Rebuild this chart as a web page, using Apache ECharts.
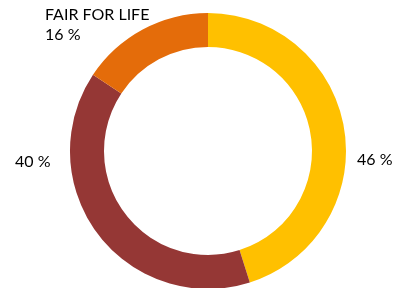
<!DOCTYPE html>
<html>
<head>
<meta charset="utf-8">
<script src="https://cdn.jsdelivr.net/npm/echarts@6/dist/echarts.min.js"></script>
<style>html,body{margin:0;padding:0;background:#fff}#c{width:397px;height:288px}</style>
</head>
<body>
<div id="c"></div>
<script>
const categories = ['', '', 'FAIR FOR LIFE'];
const values = [46, 40, 16];
const labels = ['46 %', '40 %', 'FAIR FOR LIFE\n16 %'];
const colors = ['#FFC000', '#953735', '#E46C0A'];
const labelPos = [
  {x: 357, y: 160, align: 'left', verticalAlign: 'middle'},
  {x: 15, y: 162, align: 'left', verticalAlign: 'middle'},
  {x: 45, y: 25, align: 'left', verticalAlign: 'middle'}
];
const chart = echarts.init(document.getElementById('c'), null, {renderer: 'canvas'});
chart.setOption({
  animation: false,
  series: [{
    type: 'pie',
    center: [208, 151],
    radius: [104, 138],
    startAngle: 90,
    clockwise: true,
    data: values.map((v, i) => ({
      name: categories[i], value: v,
      itemStyle: {color: colors[i]},
      label: {formatter: labels[i]}
    })),
    label: {
      show: true, position: 'outside', overflow: 'none', edgeDistance: 0,
      color: '#000', fontFamily: 'Lato', fontSize: 16, lineHeight: 20
    },
    labelLine: {show: false},
    labelLayout: function (p) { return labelPos[p.dataIndex]; },
    emphasis: {disabled: true}
  }]
});
</script>
</body>
</html>
